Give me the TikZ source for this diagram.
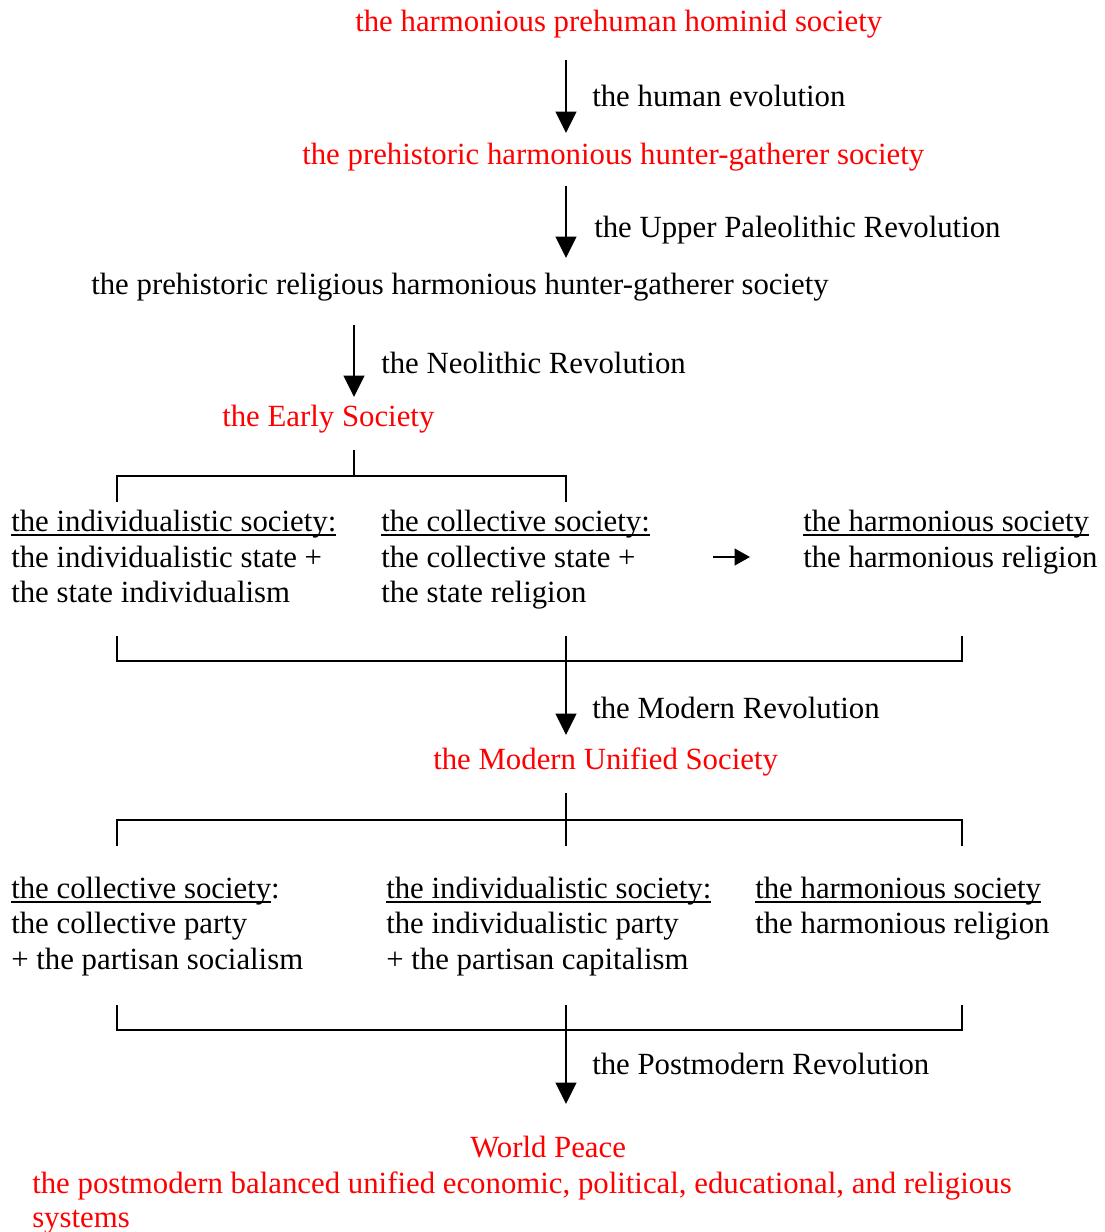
\documentclass[tikz,border=0pt]{standalone}
\usepackage{fontspec}
\setmainfont{Liberation Serif}
\usetikzlibrary{arrows.meta}
\definecolor{stagered}{RGB}{255,0,0}

% underline drawn through the descenders, as a word processor sets it
\newsavebox\ulbox
\newcommand\ulbar[1]{\sbox\ulbox{#1}\rlap{\rule[-3.6pt]{\wd\ulbox}{1.2pt}}\usebox\ulbox}

\tikzset{
  txt/.style={anchor=base west, inner sep=0pt, font=\fontsize{23.1}{26.6}\selectfont},
  stage/.style={txt, text=stagered},
  flow/.style={line width=1.5pt, -{Triangle[width=15.5pt,length=16pt]}},
  smallflow/.style={line width=1.5pt, -{Triangle[width=12.5pt,length=11.5pt]}},
  bracket/.style={line width=1.5pt}
}

\begin{document}
\begin{tikzpicture}[x=0.75pt,y=-0.75pt]
\useasboundingbox (0,0) rectangle (1104,1232);

% --- prehistory ---
\node[stage] (t1) at (355,31) {the harmonious prehuman hominid society};
\coordinate (a1s) at (566,60);  \coordinate (a1e) at (566,133);
\draw[flow] (a1s) -- (a1e);
\node[txt] (l1) at (592,106) {the human evolution};

\node[stage] (t2) at (302,164) {the prehistoric harmonious hunter-gatherer society};
\coordinate (a2s) at (566,186); \coordinate (a2e) at (566,258);
\draw[flow] (a2s) -- (a2e);
\node[txt] (l2) at (594,237) {the Upper Paleolithic Revolution};

\node[txt] (t3) at (91,294) {the prehistoric religious harmonious hunter-gatherer society};
\coordinate (a3s) at (354,325); \coordinate (a3e) at (354,397);
\draw[flow] (a3s) -- (a3e);
\node[txt] (l3) at (381,373) {the Neolithic Revolution};

\node[stage] (t4) at (222,426) {the Early Society};

% --- early society split ---
\coordinate (b1top) at (354,450); \coordinate (b1mid) at (354,476);
\coordinate (b1l) at (117,502);   \coordinate (b1r) at (566,502);
\draw[bracket] (b1top) -- (b1mid);
\draw[bracket] (b1l) |- (b1mid) -| (b1r);

\node[txt] (e1h) at (11,531) {\ulbar{the individualistic society:}};
\node[txt] (e1a) at (11,567) {the individualistic state +};
\node[txt] (e1b) at (11,602) {the state individualism};

\node[txt] (e2h) at (381,531) {\ulbar{the collective society:}};
\node[txt] (e2a) at (381,567) {the collective state +};
\node[txt] (e2b) at (381,602) {the state religion};

\coordinate (sas) at (713,557); \coordinate (sae) at (750,557);
\draw[smallflow] (sas) -- (sae);

\node[txt] (e3h) at (803,531) {\ulbar{the harmonious society}};
\node[txt] (e3a) at (803,567) {the harmonious religion};

% --- modern revolution ---
\coordinate (b2l) at (117,636); \coordinate (b2r) at (962,636);
\coordinate (b2c) at (566,636); \coordinate (b2m) at (566,661);
\coordinate (a4e) at (566,735);
\draw[bracket] (b2l) |- (b2m) -| (b2r);
\draw[flow] (b2c) -- (a4e);
\node[txt] (l4) at (592,718) {the Modern Revolution};

\node[stage] (t5) at (433,769) {the Modern Unified Society};

% --- modern society split ---
\coordinate (b3top) at (566,793); \coordinate (b3mid) at (566,820);
\coordinate (b3c) at (566,846);
\coordinate (b3l) at (117,846);   \coordinate (b3r) at (962,846);
\draw[bracket] (b3top) -- (b3c);
\draw[bracket] (b3l) |- (b3mid) -| (b3r);

\node[txt] (m1h) at (11,898) {\ulbar{the collective society}:};
\node[txt] (m1a) at (11,933) {the collective party};
\node[txt] (m1b) at (11,969) {+ the partisan socialism};

\node[txt] (m2h) at (386,898) {\ulbar{the individualistic society:}};
\node[txt] (m2a) at (386,933) {the individualistic party};
\node[txt] (m2b) at (386,969) {+ the partisan capitalism};

\node[txt] (m3h) at (755,898) {\ulbar{the harmonious society}};
\node[txt] (m3a) at (755,933) {the harmonious religion};

% --- postmodern revolution ---
\coordinate (b4l) at (117,1005); \coordinate (b4r) at (962,1005);
\coordinate (b4c) at (566,1005); \coordinate (b4m) at (566,1030);
\coordinate (a5e) at (566,1104);
\draw[bracket] (b4l) |- (b4m) -| (b4r);
\draw[flow] (b4c) -- (a5e);
\node[txt] (l5) at (592,1074) {the Postmodern Revolution};

\node[stage] (wp) at (470,1157) {World Peace};
\node[stage] (wp1) at (32,1193) {the postmodern balanced unified economic, political, educational, and religious};
\node[stage] (wp2) at (32,1227) {systems};
\end{tikzpicture}
\end{document}
